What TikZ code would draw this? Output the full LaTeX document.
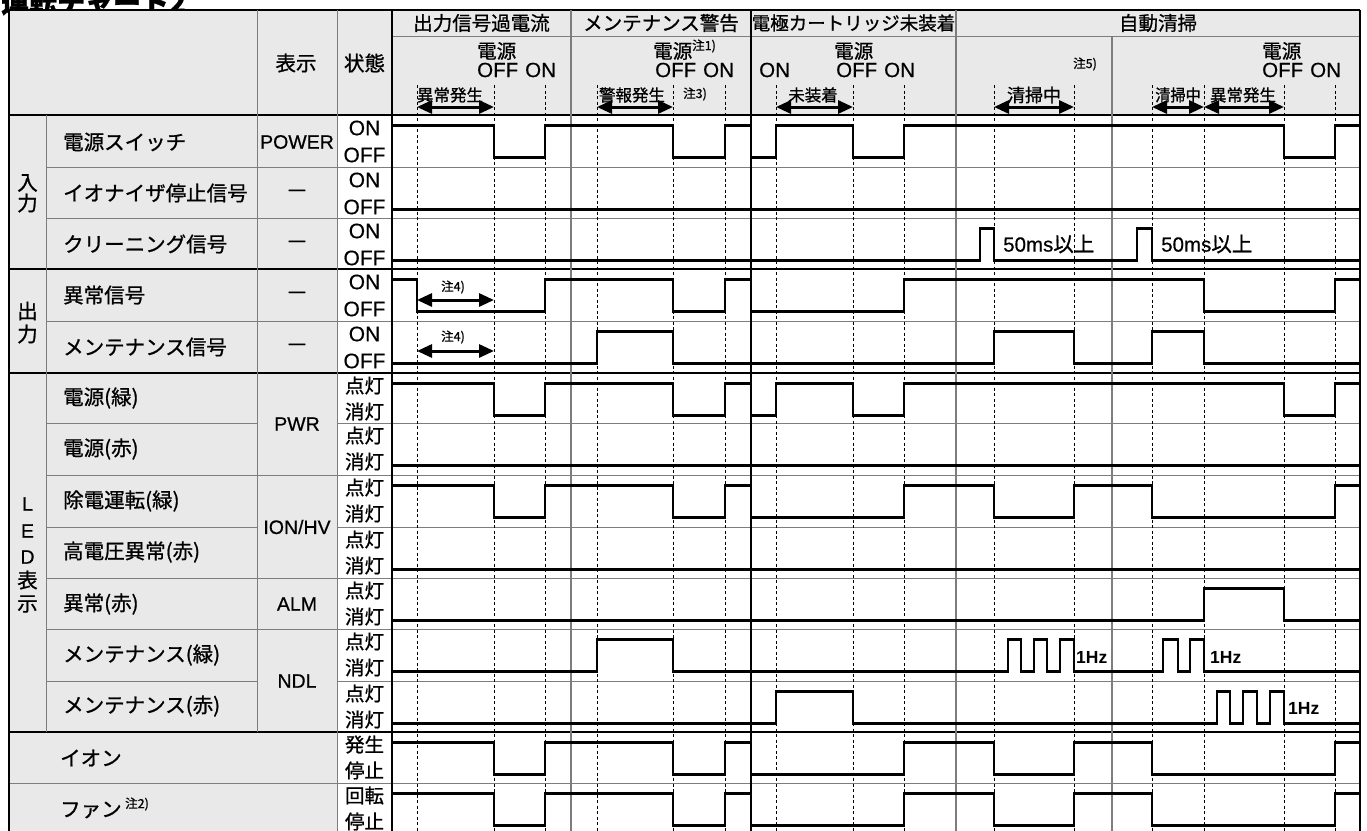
\documentclass[tikz,border=0pt]{standalone}
\usepackage{fontspec}
\setmainfont{Noto Sans CJK JP}[FakeBold=0.9]
\newfontfamily\lat{Liberation Sans}[FakeBold=0.5]
\newfontfamily\latb{Liberation Sans Bold}
\usetikzlibrary{arrows.meta}
\definecolor{hdr}{RGB}{233,233,233}
\definecolor{gridc}{RGB}{125,125,125}
\def\hi{10.5}
\def\lo{42.5}
\newcommand\rowwave[2]{\begin{scope}[yshift=-#1pt]\draw[sig] #2;\end{scope}}
\begin{document}
\begin{tikzpicture}[x=1pt,y=-1pt,
  sig/.style={line width=2.2pt, line join=miter},
  dsh/.style={line width=0.9pt, dash pattern=on 3pt off 2.5pt},
  gl/.style={draw=gridc, line width=1pt},
  bl/.style={draw=black, line width=1.2pt},
  dim/.style={{Triangle[length=15pt,width=13pt]}-{Triangle[length=15pt,width=13pt]}, line width=3pt},
  jt/.style={inner sep=0pt, font=\fontsize{20.5}{21}\selectfont},
  jst/.style={inner sep=0pt, font=\fontsize{19.5}{21}\selectfont},
  jh/.style={inner sep=0pt, font=\fontsize{19.5}{21}\selectfont},
  js/.style={inner sep=0pt, font=\fontsize{16.5}{18}\selectfont},
  jn/.style={inner sep=0pt, font=\fontsize{12.5}{14}\selectfont},
  lt/.style={inner sep=0pt, font=\lat\fontsize{19.5}{20}\selectfont},
  lst/.style={inner sep=0pt, font=\lat\fontsize{21}{22}\selectfont},
  lo/.style={inner sep=0pt, font=\lat\fontsize{20.5}{22}\selectfont},
  hz/.style={inner sep=0pt, font=\latb\fontsize{17.5}{20}\selectfont},
]
\useasboundingbox (0,0) rectangle (1367,830);
% title
\node[inner sep=0pt, anchor=base west, font=\bfseries\fontsize{28}{30}\selectfont] (title) at (1,13) {運転チャート2};
% fills
\fill[hdr] (9,10) rectangle (1360,115);
\fill[hdr] (9,115) rectangle (337,840);
% horizontal lines
\foreach \y in {167,218,321,475,578,629,783} \draw[gl] (46,\y) -- (1360,\y);
\foreach \y in {423,527,681} {\draw[gl] (46,\y) -- (257,\y); \draw[gl] (337,\y) -- (1360,\y);}
\foreach \y in {269,373,732} \draw[bl] (9,\y) -- (1360,\y);
\draw[gl] (9,783) -- (46,783);
\draw[bl] (9,115) -- (1360,115);
\draw[bl] (9,10) -- (1360,10);
\draw[gl] (392,36) -- (1360,36);
% vertical lines
\draw[bl] (9,10) -- (9,840);
\draw[gl] (46,115) -- (46,732);
\draw[gl] (257,10) -- (257,732);
\draw[gl] (337,10) -- (337,840);
\draw[bl] (392,10) -- (392,840);
\draw[gl,line width=1.3pt] (571,10) -- (571,840);
\draw[bl] (751,10) -- (751,840);
\draw[gl,line width=1.3pt] (956,10) -- (956,840);
\draw[gl,line width=1.3pt] (1112,36) -- (1112,840);
\draw[bl] (1360,10) -- (1360,840);
% dashed timing lines
\foreach \x in {417,494,545,597,673,725,776,853,904,994,1074,1152,1204,1284,1335}
  \draw[dsh] (\x,85) -- (\x,840);
% header texts
\node[jt] (h1) at (296,63) {表示};
\node[jt] (h2) at (364.5,63) {状態};
\node[jh] (c1) at (481.5,23) {出力信号過電流};
\node[jh] (c2) at (661,23) {メンテナンス警告};
\node[jh,font=\fontsize{18.5}{20}\selectfont] (c3) at (853.5,23) {電極カートリッジ未装着};
\node[jh] (c4) at (1158,23) {自動清掃};
% section 1
\node[jh,anchor=west] (s1a) at (477,51) {電源};
\node[lo,anchor=west] (s1b) at (477,70) {OFF\hspace{7pt}ON};
\node[js] (s1c) at (450,95) {異常発生};
\coordinate (a1l) at (417,107); \coordinate (a1r) at (494,107);
\draw[dim] (a1l) -- (a1r);
% section 2
\node[jh,anchor=west] (s2a) at (653,51) {電源};
\node[jn,anchor=west] (s2n) at (692,46) {注1)};
\node[lo,anchor=west] (s2b) at (655,70) {OFF\hspace{7pt}ON};
\node[js] (s2c) at (632,95) {警報発生};
\node[jn,anchor=west] (s2d) at (683,94) {注3)};
\coordinate (a2l) at (597,107); \coordinate (a2r) at (673,107);
\draw[dim] (a2l) -- (a2r);
% section 3
\node[lo,anchor=west] (s3on) at (759,70) {ON};
\node[jh,anchor=west] (s3a) at (834,51) {電源};
\node[lo,anchor=west] (s3b) at (836,70) {OFF\hspace{7pt}ON};
\node[js] (s3c) at (813,95) {未装着};
\coordinate (a3l) at (776,107); \coordinate (a3r) at (853,107);
\draw[dim] (a3l) -- (a3r);
% section 4
\node[jn,anchor=west] (s4n) at (1073,64) {注5)};
\node[js,font=\fontsize{18}{20}\selectfont] (s4c) at (1034,95) {清掃中};
\coordinate (a4l) at (994,107); \coordinate (a4r) at (1074,107);
\draw[dim] (a4l) -- (a4r);
\node[jh,anchor=west] (s5a) at (1262,51) {電源};
\node[lo,anchor=west] (s5b) at (1262,70) {OFF\hspace{7pt}ON};
\node[js,xscale=0.92] (s5c) at (1178,95) {清掃中};
\node[js] (s5d) at (1243,95) {異常発生};
\coordinate (a5l) at (1152,107); \coordinate (a5m) at (1204,107); \coordinate (a5r) at (1284,107);
\draw[dim] (a5l) -- (a5m);
\draw[dim] (a5m) -- (a5r);
% group labels
\node[jt] (g1a) at (27.5,183) {入};
\node[jt] (g1b) at (27.5,203) {力};
\node[jt] (g2a) at (27.5,311) {出};
\node[jt] (g2b) at (27.5,334) {力};
\node[lt] (g3a) at (27.5,504) {L};
\node[lt] (g3b) at (27.5,531) {E};
\node[lt] (g3c) at (27.5,557) {D};
\node[jt] (g3d) at (27.5,580) {表};
\node[jt] (g3e) at (27.5,604) {示};
% row labels
\node[jt,anchor=west] (r1) at (63,142) {電源スイッチ};
\node[jt,anchor=west] (r2) at (63,193) {イオナイザ停止信号};
\node[jt,anchor=west] (r3) at (63,244) {クリーニング信号};
\node[jt,anchor=west] (r4) at (63,295) {異常信号};
\node[jt,anchor=west] (r5) at (63,347) {メンテナンス信号};
\node[jt,anchor=west] (r6) at (63,398) {電源(緑)};
\node[jt,anchor=west] (r7) at (63,449) {電源(赤)};
\node[jt,anchor=west] (r8) at (63,501) {除電運転(緑)};
\node[jt,anchor=west] (r9) at (63,552) {高電圧異常(赤)};
\node[jt,anchor=west] (r10) at (63,604) {異常(赤)};
\node[jt,anchor=west] (r11) at (63,655) {メンテナンス(緑)};
\node[jt,anchor=west] (r12) at (63,706) {メンテナンス(赤)};
\node[jt,anchor=west] (r13) at (60,758) {イオン};
\node[jt,anchor=west] (r14) at (60,810) {ファン};
\node[jn,anchor=west] (r14n) at (125,804) {注2)};
% display column
\node[lt] (d1) at (297,142) {POWER};
\foreach \y/\n in {193/d2,244/d3,295/d4,347/d5} \node[jt] (\n) at (297,\y) {—};
\node[lt] (d6) at (297,424) {PWR};
\node[lt] (d8) at (297,527) {ION/HV};
\node[lt] (d10) at (297,604) {ALM};
\node[lt] (d11) at (297,681) {NDL};
% state column
\foreach \t/\n in {115/a,167/b,218/c,269/d,321/e} {
  \node[lst] (st\n1) at (364.5,\t+13) {ON};
  \node[lst] (st\n2) at (364.5,\t+40) {OFF};
}
\foreach \t/\n in {373/f,423/g,475/h,527/i,578/j,629/k,681/l} {
  \node[jst] (st\n1) at (364.5,\t+12.5) {点灯};
  \node[jst] (st\n2) at (364.5,\t+38.5) {消灯};
}
\node[jst] (stm1) at (364.5,744.5) {発生};
\node[jst] (stm2) at (364.5,770.5) {停止};
\node[jst] (stn1) at (364.5,795.5) {回転};
\node[jst] (stn2) at (364.5,821.5) {停止};
% signals
\rowwave{115}{(392,\hi) -| (494,\lo) -| (545,\hi) -| (673,\lo) -| (725,\hi) -| (751,\lo) -| (776,\hi) -| (853,\lo) -| (904,\hi) -| (1284,\lo) -| (1335,\hi) -- (1360,\hi)}
\rowwave{167}{(392,\lo) -- (1360,\lo)}
\rowwave{218}{(392,\lo) -| (980,\hi) -| (994,\lo) -| (1137,\hi) -| (1152,\lo) -- (1360,\lo)}
\rowwave{269}{(392,\hi) -| (417,\lo) -| (545,\hi) -| (673,\lo) -| (725,\hi) -| (751,\lo) -| (904,\hi) -| (1204,\lo) -| (1335,\hi) -- (1360,\hi)}
\rowwave{321}{(392,\lo) -| (597,\hi) -| (673,\lo) -| (994,\hi) -| (1074,\lo) -| (1152,\hi) -| (1204,\lo) -- (1360,\lo)}
\rowwave{373}{(392,\hi) -| (494,\lo) -| (545,\hi) -| (673,\lo) -| (725,\hi) -| (751,\lo) -| (776,\hi) -| (853,\lo) -| (904,\hi) -| (1284,\lo) -| (1335,\hi) -- (1360,\hi)}
\rowwave{423}{(392,\lo) -- (1360,\lo)}
\rowwave{475}{(392,\hi) -| (494,\lo) -| (545,\hi) -| (673,\lo) -| (725,\hi) -| (751,\lo) -| (904,\hi) -| (994,\lo) -| (1074,\hi) -| (1152,\lo) -| (1335,\hi) -- (1360,\hi)}
\rowwave{527}{(392,\lo) -- (1360,\lo)}
\rowwave{578}{(392,\lo) -| (1204,\hi) -| (1284,\lo) -- (1360,\lo)}
\rowwave{629}{(392,\lo) -| (597,\hi) -| (673,\lo) -| (1008,\hi) -| (1021,\lo) -| (1034,\hi) -| (1047,\lo) -| (1060,\hi) -| (1074,\lo) -| (1163,\hi) -| (1178,\lo) -| (1190,\hi) -| (1204,\lo) -- (1360,\lo)}
\rowwave{681}{(392,\lo) -| (776,\hi) -| (853,\lo) -| (1217,\hi) -| (1230,\lo) -| (1243,\hi) -| (1257,\lo) -| (1270,\hi) -| (1284,\lo) -- (1360,\lo)}
\rowwave{732}{(392,\hi) -| (494,\lo) -| (545,\hi) -| (673,\lo) -| (725,\hi) -| (751,\lo) -| (904,\hi) -| (994,\lo) -| (1074,\hi) -| (1152,\lo) -| (1335,\hi) -- (1360,\hi)}
\rowwave{783}{(392,\hi) -| (494,\lo) -| (545,\hi) -| (673,\lo) -| (725,\hi) -| (751,\lo) -| (904,\hi) -| (994,\lo) -| (1074,\hi) -| (1152,\lo) -| (1335,\hi) -- (1360,\hi)}
% annotations in rows
\node[jn] (n4a) at (453,287) {注4)};
\coordinate (b1l) at (417,300); \coordinate (b1r) at (494,300);
\draw[dim] (b1l) -- (b1r);
\node[jn] (n4b) at (453,337) {注4)};
\coordinate (b2l) at (417,351); \coordinate (b2r) at (494,351);
\draw[dim] (b2l) -- (b2r);
\node[inner sep=0pt,anchor=west] (ms1) at (1003,244) {{\lat\fontsize{20.5}{22}\selectfont 50ms}{\fontsize{20.5}{22}\selectfont 以上}};
\node[inner sep=0pt,anchor=west] (ms2) at (1161,244) {{\lat\fontsize{20.5}{22}\selectfont 50ms}{\fontsize{20.5}{22}\selectfont 以上}};
\node[hz,anchor=west] (hz1) at (1076,657) {1Hz};
\node[hz,anchor=west] (hz2) at (1210,657) {1Hz};
\node[hz,anchor=west] (hz3) at (1288,708) {1Hz};
\end{tikzpicture}
\end{document}
